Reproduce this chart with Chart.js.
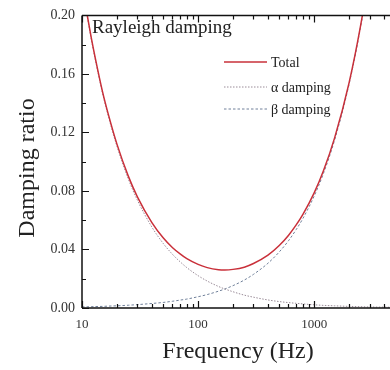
<!DOCTYPE html>
<html>
<head>
<meta charset="utf-8">
<script src="https://cdn.jsdelivr.net/npm/chart.js@4"></script>
<style>
  body { margin: 0; background: #fff; }
  canvas { display: block; }
</style>
</head>
<body>
<canvas id="damping-chart" width="390" height="370"></canvas>
<script>
// Frequencies (Hz) read along the log axis
const freq = [10, 11, 12, 13, 15, 17, 20, 25, 30, 40, 50, 60, 70, 80, 100, 120, 150, 170,
  200, 250, 300, 400, 500, 600, 700, 800, 1000, 1200, 1500, 2000, 2500, 3000, 4000, 4500];

// Damping ratio
const totalDamping = [0.2218, 0.2018, 0.1849, 0.1710, 0.1481, 0.1313, 0.1120, 0.0903, 0.0760,
  0.0584, 0.0480, 0.0414, 0.0370, 0.0337, 0.0298, 0.0276, 0.0262, 0.0260, 0.0264, 0.0279,
  0.0304, 0.0361, 0.0427, 0.0496, 0.0568, 0.0640, 0.0787, 0.0936, 0.1163, 0.1541, 0.1922,
  0.2302, 0.3066, 0.3447];
const alphaDamping = [0.2210, 0.2010, 0.1840, 0.1700, 0.1470, 0.1300, 0.1105, 0.0884, 0.0737,
  0.0553, 0.0442, 0.0368, 0.0316, 0.0276, 0.0221, 0.0184, 0.0147, 0.0130, 0.0111, 0.0088,
  0.0074, 0.0055, 0.0044, 0.0037, 0.0032, 0.0028, 0.0022, 0.0018, 0.0015, 0.0011, 0.0009,
  0.0007, 0.0006, 0.0005];
const betaDamping = [0.0008, 0.0008, 0.0009, 0.0010, 0.0011, 0.0013, 0.0015, 0.0019, 0.0023,
  0.0031, 0.0038, 0.0046, 0.0054, 0.0061, 0.0077, 0.0092, 0.0115, 0.0130, 0.0153, 0.0191,
  0.0230, 0.0306, 0.0383, 0.0459, 0.0536, 0.0612, 0.0765, 0.0918, 0.1148, 0.1530, 0.1913,
  0.2295, 0.3060, 0.3443];

// Axis ticks
const xLabels = [10, 100, 1000];
const xMinor = [20, 30, 40, 50, 60, 70, 80, 90, 200, 300, 400, 500, 600, 700, 800, 900, 2000, 3000, 4000];
const yTicks = [0, 0.04, 0.08, 0.12, 0.16, 0.20];
const yMinor = [0.02, 0.06, 0.10, 0.14, 0.18];

const serif = '"Liberation Serif", "DejaVu Serif", serif';

const toPoints = (ys) => freq.map((f, i) => ({ x: f, y: ys[i] }));

// Frame, inward ticks, titles and legend
const decorPlugin = {
  id: 'decor',
  afterDraw(chart) {
    const { ctx, chartArea: a, scales } = chart;
    const xs = scales.x, ys = scales.y;
    ctx.save();
    ctx.strokeStyle = '#111';
    ctx.lineWidth = 1.5;
    ctx.beginPath();
    ctx.moveTo(a.left, a.top); ctx.lineTo(a.right, a.top);
    ctx.moveTo(a.left, a.top); ctx.lineTo(a.left, a.bottom);
    ctx.moveTo(a.left, a.bottom); ctx.lineTo(a.right, a.bottom);
    ctx.stroke();

    ctx.lineWidth = 1.2;
    ctx.beginPath();
    const xTick = (v, len) => {
      const px = Math.round(xs.getPixelForValue(v)) + 0.5;
      ctx.moveTo(px, a.bottom); ctx.lineTo(px, a.bottom - len);
      ctx.moveTo(px, a.top); ctx.lineTo(px, a.top + len);
    };
    xLabels.forEach((v) => xTick(v, 7));
    xMinor.forEach((v) => xTick(v, 4));
    const yTick = (v, len) => {
      const py = Math.round(ys.getPixelForValue(v)) + 0.5;
      ctx.moveTo(a.left, py); ctx.lineTo(a.left + len, py);
    };
    yTicks.forEach((v) => yTick(v, 7));
    yMinor.forEach((v) => yTick(v, 4));
    ctx.stroke();

    // Axis titles
    ctx.fillStyle = '#222';
    ctx.font = '24px ' + serif;
    ctx.textAlign = 'center';
    ctx.textBaseline = 'middle';
    ctx.fillText('Frequency (Hz)', 238, 352);
    ctx.save();
    ctx.translate(28, 168);
    ctx.rotate(-Math.PI / 2);
    ctx.fillText('Damping ratio', 0, 0);
    ctx.restore();

    // Panel label
    ctx.textAlign = 'left';
    ctx.textBaseline = 'alphabetic';
    ctx.font = '19px ' + serif;
    ctx.fillText('Rayleigh damping', 92, 33);

    // Legend
    ctx.font = '14px ' + serif;
    ctx.textBaseline = 'middle';
    const legendRows = [62, 87, 109];
    chart.data.datasets.forEach((ds, i) => {
      const y = legendRows[i];
      ctx.save();
      ctx.strokeStyle = ds.borderColor;
      ctx.lineWidth = ds.borderWidth;
      ctx.setLineDash(ds.borderDash || []);
      ctx.beginPath();
      ctx.moveTo(224, y); ctx.lineTo(267, y);
      ctx.stroke();
      ctx.restore();
      ctx.fillText(ds.label, 271, y + 1);
    });
    ctx.restore();
  },
};

new Chart(document.getElementById('damping-chart'), {
  type: 'line',
  data: {
    datasets: [
      {
        label: 'Total',
        data: toPoints(totalDamping),
        borderColor: '#c9303a',
        borderWidth: 1.5,
        pointRadius: 0,
        cubicInterpolationMode: 'monotone',
      },
      {
        label: 'α damping',
        data: toPoints(alphaDamping),
        borderColor: '#9a8c98',
        borderWidth: 1,
        borderDash: [1.5, 1.5],
        pointRadius: 0,
        cubicInterpolationMode: 'monotone',
      },
      {
        label: 'β damping',
        data: toPoints(betaDamping),
        borderColor: '#70809a',
        borderWidth: 1,
        borderDash: [2.5, 2],
        pointRadius: 0,
        cubicInterpolationMode: 'monotone',
      },
    ],
  },
  options: {
    responsive: false,
    animation: false,
    layout: { padding: { top: 10, right: 0, left: 0, bottom: 0 } },
    plugins: { legend: { display: false }, tooltip: { enabled: false } },
    scales: {
      x: {
        type: 'logarithmic',
        min: 10,
        max: 4500,
        grid: { display: false, drawTicks: false },
        border: { display: false },
        afterBuildTicks: (s) => { s.ticks = xLabels.map((v) => ({ value: v })); },
        afterFit: (s) => { s.height = 62; },
        ticks: {
          autoSkip: false,
          maxRotation: 0,
          padding: 9,
          color: '#333',
          font: { family: serif, size: 13 },
          callback: (v) => String(v),
        },
      },
      y: {
        min: 0,
        max: 0.2,
        grid: { display: false, drawTicks: false },
        border: { display: false },
        afterBuildTicks: (s) => { s.ticks = yTicks.map((v) => ({ value: v })); },
        afterFit: (s) => { s.width = 82; },
        ticks: {
          padding: 7,
          color: '#333',
          font: { family: serif, size: 14 },
          callback: (v) => Number(v).toFixed(2),
        },
      },
    },
  },
  plugins: [decorPlugin],
});
</script>
</body>
</html>
